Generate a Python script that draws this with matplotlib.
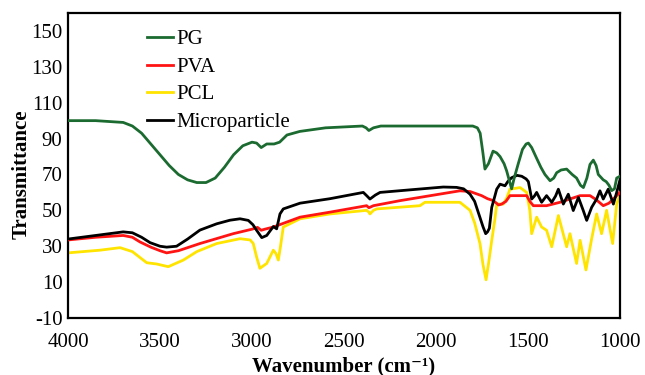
import matplotlib
matplotlib.use("Agg")
import matplotlib.pyplot as plt

# ---- data ----
pg_w = [4000, 3850, 3700, 3650, 3600, 3550, 3500, 3450, 3400, 3350, 3300, 3250, 3200, 3150, 3100,
        3050, 3000, 2975, 2950, 2920, 2880, 2850, 2810, 2740, 2600, 2400, 2380, 2365, 2340, 2300,
        2000, 1800, 1775, 1760, 1745, 1734, 1715, 1690, 1670, 1652, 1630, 1616, 1600, 1589, 1575,
        1553, 1530, 1510, 1498, 1480, 1453, 1430, 1408, 1380, 1360, 1344, 1320, 1290, 1260, 1236,
        1215, 1199, 1180, 1163, 1145, 1130, 1118, 1100, 1091, 1075, 1060, 1045, 1030, 1018, 1000]
pg_v = [100, 100, 99, 97, 93, 87, 81, 75, 70, 67, 65.5, 65.5, 68, 74, 81,
        86, 88, 87.5, 85, 87, 87, 88, 92, 94, 96, 97, 96, 94.5, 96, 97,
        97, 97, 96, 93, 82, 73, 76, 83, 82, 80, 76, 72, 66, 62, 68,
        76, 84, 87, 87.5, 85, 79, 74, 70, 66.5, 68, 71, 72.5, 73, 70, 68,
        64, 62.7, 68, 75.6, 78, 75, 70, 68, 67, 66, 64, 61, 62, 68, 69]

pva_w = [4000, 3850, 3700, 3650, 3609, 3550, 3500, 3464, 3400, 3283, 3102, 3000, 2970, 2950, 2930,
         2884, 2739, 2576, 2377, 2365, 2359, 2340, 2196, 1870, 1815, 1752, 1720, 1688, 1660, 1643,
         1620, 1598, 1543, 1507, 1490, 1471, 1399, 1326, 1217, 1163, 1130, 1091, 1060, 1000]
pva_v = [33.5, 35, 36, 35, 32.4, 29.5, 27.5, 26.3, 27.5, 31.5, 37, 39.5, 40.5, 38.9, 39.5,
         40.7, 46.2, 49, 52.6, 51.5, 51.7, 52.6, 55.4, 60.9, 60.5, 58.2, 56.5, 55.4, 53, 53.5,
         55, 58.2, 58.2, 58.2, 55, 52.6, 52.6, 54.5, 58.2, 58.2, 56, 52.6, 54, 60]

pcl_w = [4000, 3826, 3717, 3650, 3600, 3572, 3518, 3455, 3373, 3300, 3192, 3065, 3010, 2993, 2975,
         2957, 2920, 2884, 2870, 2857, 2845, 2830, 2739, 2576, 2377, 2365, 2359, 2340, 2322, 2087,
         2060, 1870, 1815, 1790, 1761, 1745, 1728, 1715, 1697, 1680, 1670, 1634, 1615, 1598, 1543,
         1507, 1490, 1480, 1453, 1426, 1399, 1371, 1335, 1290, 1272, 1236, 1217, 1185, 1154, 1127,
         1100, 1073, 1040, 1018, 1000]
pcl_v = [26.3, 27.8, 29.2, 27, 23, 20.8, 20.1, 18.6, 22.3, 27, 31.5, 34.2, 33.5, 31.5, 24,
         17.7, 20.4, 27.8, 26, 22.3, 30, 40.7, 45.3, 48, 50, 49, 48, 50, 50.8, 52.6,
         54.5, 54.5, 50, 43, 31.5, 20, 11.3, 20, 33.3, 45, 53.5, 53.5, 57, 61.8, 62.7,
         60, 50, 37, 46.2, 40.7, 38.9, 29.7, 47.1, 29.7, 37, 20.4, 33.3, 16.8, 34.2, 48,
         37, 50, 31.5, 53.5, 59]

mp_w = [4000, 3850, 3700, 3650, 3600, 3554, 3500, 3464, 3410, 3350, 3283, 3192, 3120, 3065, 3020,
        2995, 2975, 2947, 2920, 2884, 2866, 2848, 2830, 2739, 2576, 2395, 2375, 2359, 2330, 2304,
        2087, 1960, 1888, 1850, 1815, 1790, 1761, 1745, 1730, 1720, 1710, 1697, 1680, 1670, 1652,
        1625, 1610, 1589, 1560, 1534, 1510, 1498, 1480, 1465, 1453, 1426, 1399, 1371, 1350, 1335,
        1308, 1281, 1254, 1226, 1200, 1181, 1154, 1127, 1109, 1091, 1064, 1036, 1018, 1000]
mp_v = [34, 36, 38, 37.5, 35, 32, 30, 29.5, 30, 34, 39, 42.5, 44.5, 45.3, 44.4,
        42, 38.9, 34.8, 36, 41, 39.7, 48, 50.8, 54, 56.5, 60, 58, 56.3, 58.5, 60,
        61.9, 63, 62.8, 62, 59, 55, 46, 41, 37, 38, 40, 51.7, 58, 61.8, 64.6,
        63.7, 66, 68.2, 69.5, 69, 67.5, 66, 56.3, 58, 60, 54.5, 58.2, 54.5, 58, 61.8,
        53.5, 59, 49.9, 57.2, 50, 44.4, 51.7, 56.3, 60.9, 56.3, 61.8, 53.5, 60, 67]

labels = ["PG", "PVA", "PCL", "Microparticle"]
colors = ["#1b6b30", "#ff1414", "#ffe400", "#000000"]
x_ticks = [4000, 3500, 3000, 2500, 2000, 1500, 1000]
y_ticks = [-10, 10, 30, 50, 70, 90, 110, 130, 150]

FS = 15
plt.rcParams["font.family"] = ["Liberation Serif", "DejaVu Serif"]
plt.rcParams["font.size"] = FS
plt.rcParams["axes.unicode_minus"] = False

fig = plt.figure(figsize=(6.45, 3.75), dpi=100)
ax = fig.add_axes([68 / 645, 1 - 318 / 375, 552 / 645, 305 / 375])

series = [(pg_w, pg_v), (pva_w, pva_v), (pcl_w, pcl_v), (mp_w, mp_v)]
zorders = [5, 3, 2, 4]
for (w, v), lab, c, z in zip(series, labels, colors, zorders):
    ax.plot(w, v, color=c, lw=2.0, label=lab, zorder=z, solid_joinstyle="round")

ax.set_xlim(4000, 1000)
ax.set_ylim(-10, 160)
ax.set_xticks(x_ticks)
ax.set_yticks(y_ticks)
ax.tick_params(axis="both", length=0, labelsize=FS)
ax.tick_params(axis="x", pad=11)
ax.tick_params(axis="y", pad=4)
for s in ax.spines.values():
    s.set_linewidth(1.6)

ax.set_xlabel("Wavenumber (cm\u207b\u00b9)", fontweight="bold", fontsize=FS, labelpad=3)
ax.set_ylabel("Transmittance", fontweight="bold", fontsize=FS)
ax.yaxis.set_label_coords(-0.066, 0.47)

handles, labs = ax.get_legend_handles_labels()
ax.legend(handles, labs, loc="upper left", bbox_to_anchor=(0.143, 0.945), frameon=False,
          borderpad=0, borderaxespad=0, handlelength=1.25, handletextpad=0.15,
          labelspacing=0.38, fontsize=FS)

fig.savefig("out.png", dpi=100)
